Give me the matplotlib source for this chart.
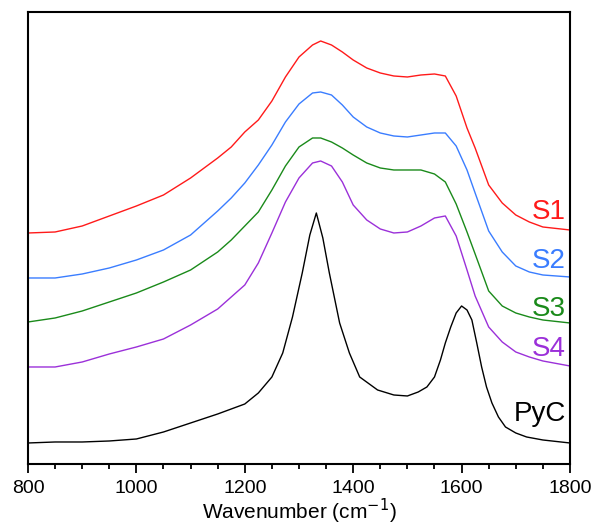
import matplotlib.pyplot as plt

plt.rcParams['font.family'] = ['Liberation Sans', 'DejaVu Sans']

# Raman spectra (intensity in arbitrary units, stacked)
wn_pyc = [800, 850, 900, 950, 1000, 1050, 1100, 1150, 1200, 1225, 1250, 1270, 1288, 1306,
          1320, 1332, 1344, 1356, 1375, 1393, 1412, 1445, 1475, 1500, 1520, 1536, 1550,
          1561, 1570, 1580, 1590, 1600, 1610, 1619, 1628, 1637, 1646, 1656, 1668, 1681,
          1700, 1720, 1750, 1800]
pyc = [21, 22, 22, 23, 25, 32, 41, 50, 60, 71, 87, 111, 147, 191,
       229, 251, 226, 191, 141, 111, 87, 74, 69, 68, 72, 77, 87,
       104, 121, 137, 151, 158, 154, 144, 121, 97, 77, 61, 47, 37,
       31, 27, 24, 21]

wn_s = [800, 850, 900, 950, 1000, 1050, 1100, 1150, 1175, 1200, 1225, 1250, 1275, 1300,
        1325, 1340, 1360, 1380, 1400, 1425, 1450, 1475, 1500, 1525, 1550, 1570, 1590,
        1610, 1625, 1650, 1675, 1700, 1725, 1750, 1800]
s1 = [231, 232, 238, 248, 258, 269, 286, 306, 317, 332, 344, 363, 387, 407,
      419, 423, 419, 412, 404, 396, 391, 388, 387, 389, 390, 388, 368,
      336, 316, 279, 261, 249, 242, 237, 234]
s2 = [186, 186, 190, 196, 204, 214, 229, 253, 266, 281, 299, 319, 342, 360,
      371, 372, 369, 359, 347, 337, 331, 328, 327, 329, 331, 331, 318,
      294, 271, 233, 212, 198, 192, 189, 187]
s3 = [142, 146, 153, 162, 171, 182, 194, 212, 224, 238, 252, 274, 298, 317,
      326, 326, 322, 316, 309, 301, 296, 294, 294, 294, 290, 282, 260,
      232, 210, 173, 158, 151, 147, 144, 141]
s4 = [97, 97, 102, 110, 117, 125, 139, 155, 167, 179, 201, 231, 262, 286,
      301, 303, 298, 282, 259, 244, 235, 231, 232, 238, 246, 248, 228,
      194, 168, 137, 122, 112, 107, 103, 98]

names = ['S1', 'S2', 'S3', 'S4', 'PyC']
colors = ['#ff1a1a', '#3a7dff', '#1a8a1a', '#9b30d9', 'black']
label_y = [252, 203, 155, 115, 50]

fig = plt.figure(figsize=(5.92, 5.26), dpi=100)
ax = fig.add_axes([0.0473, 0.1179, 0.9155, 0.8593])

ax.plot(wn_s, s1, color=colors[0], lw=1)
ax.plot(wn_s, s2, color=colors[1], lw=1)
ax.plot(wn_s, s3, color=colors[2], lw=1)
ax.plot(wn_s, s4, color=colors[3], lw=1)
ax.plot(wn_pyc, pyc, color=colors[4], lw=1)

for name, c, y in zip(names, colors, label_y):
    ax.text(1792, y, name, color=c, fontsize=20, ha='right', va='center')

ax.set_xlim(800, 1800)
ax.set_ylim(0, 452)
ax.set_xticks([800, 1000, 1200, 1400, 1600, 1800])
ax.set_xticks(range(850, 1800, 50), minor=True)
ax.set_yticks([])
ax.tick_params(axis='x', which='major', direction='out', length=6.5, width=1.3,
               labelsize=14, pad=5)
ax.tick_params(axis='x', which='minor', direction='out', length=3.5, width=1.3)
for s in ax.spines.values():
    s.set_linewidth(1.5)
ax.set_xlabel('Wavenumber (cm$^{-1}$)', fontsize=15, labelpad=0)

fig.savefig('out.png', dpi=100)
